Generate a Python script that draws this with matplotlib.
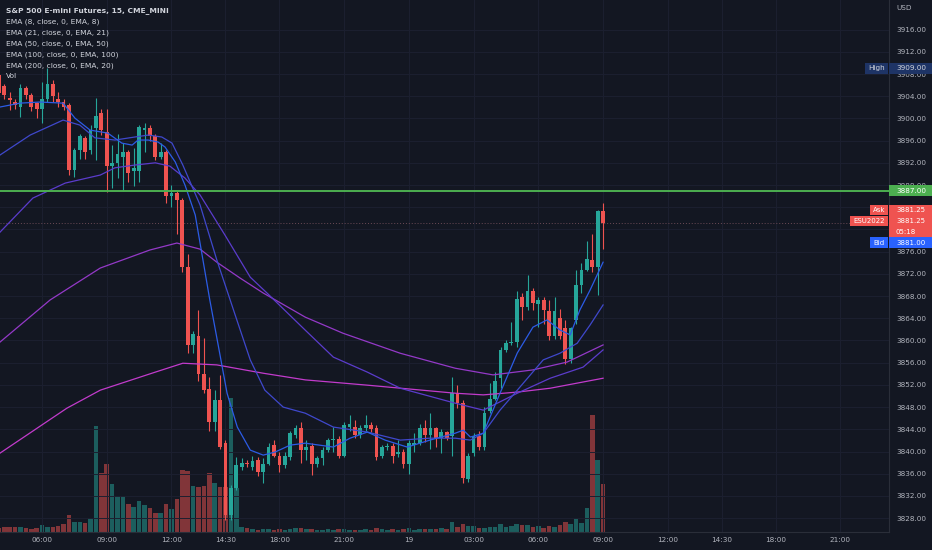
"""ES 15분봉 차트(TradingView 다크 테마)를 matplotlib으로 다시 그린다."""

import matplotlib
matplotlib.use("Agg")
import matplotlib.pyplot as plt
import matplotlib.transforms as mtransforms
from matplotlib.patches import Rectangle

W, H = 932, 550
BG = "#131722"
GRID = "#1c2030"
TEXT = "#b2b5be"
UP = "#26a69a"
DOWN = "#ef5350"

# 봉 위치(06:00 첫째 날 = 0), OHLC, 거래량
bar_pos = list(range(-8, 105))
opens = [
    3907.75, 3905.75, 3903.75, 3903.0, 3902.0, 3905.5, 3904.25, 3902.75,
    3901.75, 3903.5, 3906.25, 3903.5, 3903.0, 3902.5, 3890.75, 3894.25, 3896.5, 3894.25,
    3898.25, 3901.0, 3897.5, 3891.5, 3892.0, 3893.0, 3894.0, 3890.5, 3890.5, 3898.0,
    3898.25, 3896.75, 3893.0, 3894.0, 3886.0, 3886.5, 3885.25, 3873.25, 3859.25, 3860.75,
    3854.0, 3851.25, 3845.25, 3849.25, 3841.5, 3828.5, 3833.5, 3837.25, 3838.0, 3837.25,
    3838.5, 3836.25, 3837.75, 3841.25, 3839.25, 3837.5, 3839.0, 3843.0, 3844.25, 3840.25,
    3841.0, 3837.75, 3838.75, 3840.25, 3842.0, 3842.25, 3839.25, 3844.5, 3844.5, 3843.0,
    3844.25, 3844.75, 3844.25, 3839.25, 3840.75, 3841.0, 3839.5, 3840.0, 3837.75, 3841.25,
    3841.5, 3844.25, 3843.0, 3844.25, 3842.5, 3843.5, 3842.75, 3850.5, 3848.75, 3835.0,
    3839.75, 3842.75, 3840.75, 3847.25, 3849.5, 3853.25, 3858.25, 3859.5, 3859.75, 3867.75,
    3866.0, 3869.0, 3866.5, 3867.25, 3865.25, 3860.75, 3864.0, 3862.25, 3856.75, 3863.75,
    3870.0, 3872.75, 3874.5, 3873.25, 3883.25,
]
highs = [
    3908.25, 3906.25, 3904.75, 3903.5, 3906.25, 3905.75, 3904.5, 3903.0,
    3906.5, 3909.0, 3907.0, 3904.75, 3903.5, 3902.75, 3894.75, 3897.25, 3896.75, 3898.75,
    3903.75, 3901.75, 3901.75, 3895.25, 3897.25, 3895.5, 3894.25, 3894.75, 3898.75, 3899.25,
    3898.75, 3897.25, 3895.5, 3894.25, 3888.0, 3887.0, 3885.75, 3875.5, 3861.75, 3865.5,
    3860.5, 3853.5, 3851.0, 3853.75, 3842.0, 3834.0, 3839.0, 3838.75, 3838.5, 3839.25,
    3839.0, 3838.75, 3841.5, 3842.0, 3840.0, 3840.0, 3843.75, 3844.75, 3845.25, 3842.0,
    3841.5, 3839.25, 3840.75, 3842.5, 3844.5, 3842.75, 3845.25, 3846.5, 3845.75, 3844.75,
    3846.5, 3845.25, 3844.75, 3841.25, 3841.5, 3841.5, 3842.0, 3840.5, 3842.0, 3843.25,
    3845.0, 3845.75, 3847.0, 3844.5, 3844.0, 3843.75, 3853.5, 3852.0, 3849.25, 3839.75,
    3843.25, 3843.75, 3848.0, 3852.25, 3854.25, 3858.75, 3860.0, 3863.25, 3869.0, 3868.5,
    3871.75, 3869.5, 3867.75, 3867.75, 3867.25, 3867.75, 3865.75, 3863.75, 3862.5, 3872.75,
    3874.0, 3878.0, 3879.25, 3883.5, 3884.75,
]
lows = [
    3904.25, 3903.5, 3901.5, 3901.75, 3900.25, 3903.5, 3901.25, 3900.0,
    3899.25, 3903.0, 3903.0, 3902.0, 3901.5, 3889.75, 3889.5, 3892.75, 3892.75, 3893.5,
    3892.5, 3897.0, 3886.75, 3887.5, 3889.25, 3887.0, 3888.5, 3887.75, 3888.5, 3894.0,
    3896.0, 3892.5, 3892.75, 3884.75, 3884.0, 3879.25, 3872.25, 3857.75, 3857.75, 3852.75,
    3850.5, 3843.75, 3843.75, 3840.5, 3827.75, 3827.75, 3833.0, 3836.75, 3837.25, 3836.75,
    3835.5, 3834.25, 3837.5, 3839.0, 3836.25, 3837.0, 3838.5, 3842.5, 3838.0, 3838.5,
    3835.75, 3837.25, 3837.5, 3840.0, 3840.0, 3838.75, 3839.0, 3843.75, 3842.5, 3842.5,
    3843.75, 3843.5, 3838.5, 3838.75, 3840.25, 3838.0, 3839.0, 3837.0, 3836.0, 3840.0,
    3841.25, 3841.75, 3840.5, 3840.75, 3839.75, 3842.0, 3839.25, 3847.75, 3834.25, 3834.5,
    3839.25, 3840.25, 3840.25, 3847.0, 3849.25, 3851.5, 3858.0, 3859.25, 3858.75, 3863.75,
    3865.5, 3865.5, 3862.5, 3863.0, 3860.0, 3860.25, 3860.25, 3855.75, 3856.0, 3863.0,
    3868.5, 3872.5, 3872.25, 3868.25, 3876.5,
]
closes = [
    3904.5, 3904.25, 3903.25, 3902.5, 3905.5, 3904.25, 3902.0, 3901.75,
    3903.5, 3906.25, 3904.0, 3903.0, 3902.0, 3890.75, 3894.25, 3896.75, 3894.0, 3898.0,
    3900.5, 3898.0, 3891.5, 3892.0, 3893.5, 3894.0, 3890.25, 3891.0, 3898.5, 3898.25,
    3896.75, 3893.0, 3894.0, 3886.0, 3886.5, 3885.25, 3873.25, 3859.25, 3861.25, 3854.0,
    3851.0, 3845.25, 3849.25, 3840.75, 3828.5, 3833.5, 3837.5, 3838.0, 3837.75, 3838.25,
    3836.25, 3837.75, 3840.75, 3839.25, 3837.5, 3839.25, 3843.25, 3844.25, 3840.25, 3840.75,
    3837.75, 3838.75, 3840.25, 3842.0, 3842.25, 3839.25, 3844.75, 3845.0, 3843.0, 3844.25,
    3844.75, 3844.0, 3839.0, 3840.75, 3841.0, 3839.25, 3840.0, 3837.75, 3841.5, 3841.5,
    3844.25, 3843.0, 3844.25, 3842.5, 3843.5, 3842.5, 3850.5, 3848.75, 3835.25, 3839.25,
    3842.75, 3840.75, 3847.0, 3849.5, 3852.75, 3858.25, 3859.5, 3859.75, 3867.5, 3866.0,
    3869.0, 3866.75, 3867.25, 3865.5, 3860.75, 3865.25, 3860.75, 3856.75, 3862.25, 3870.0,
    3872.75, 3874.75, 3873.25, 3883.25, 3881.25,
]
volumes = [
    2000, 2300, 2700, 2300, 2700, 1800, 1500, 2200,
    3500, 2700, 2700, 3000, 4000, 8500, 5200, 5200, 4700, 6800,
    53000, 29300, 34000, 24000, 18200, 18200, 14000, 12700, 15500, 13500,
    11800, 9700, 9700, 13800, 11300, 16500, 31000, 30700, 23000, 22700,
    23000, 29300, 24300, 22300, 22700, 67000, 21800, 2700, 1800, 1400,
    1100, 1500, 1300, 1200, 1600, 1000, 1400, 1800, 2000, 1300,
    1500, 1100, 1200, 1300, 1000, 1400, 1700, 1200, 1100, 1000,
    1300, 1100, 1800, 1300, 1000, 1500, 1200, 1400, 1900, 1200,
    1600, 1300, 1700, 1500, 1800, 1300, 5200, 2700, 4000, 3200,
    3000, 1800, 2200, 2300, 2300, 3800, 2300, 3000, 4000, 3700,
    3700, 2700, 3200, 2200, 3000, 2700, 3700, 5200, 4000, 6700,
    4300, 12200, 58500, 36000, 23800,
]

# 이동평균선: 그림에서 읽은 (봉 위치, 가격)
ema8_pos = [-7.8, -4.1, -0.4, 3.9, 6.1, 8.9, 12.2, 14.8, 16.7, 17.8, 19.7, 21.5, 22.8,
            24.7, 26.5, 28.4, 31.1, 33.0, 34.3, 36.2, 38.6, 41.0, 43.2, 46.0, 48.8, 54.0,
            57.1, 60.3, 63.6, 67.7, 71.9, 76.6, 78.1, 79.4, 81.8, 84.9, 88.1, 91.0, 93.6,
            96.0, 97.9, 99.7, 101.6, 104.0]
ema8_val = [3902.05, 3902.75, 3902.95, 3902.75, 3900.05, 3897.9, 3897.35, 3895.55, 3895.2,
            3896.1, 3896.1, 3895.75, 3894.85, 3892.15, 3888.0, 3882.6, 3867.3, 3857.35,
            3850.5, 3844.4, 3840.25, 3839.35, 3839.9, 3841.15, 3841.5, 3840.8, 3842.4,
            3843.5, 3842.05, 3840.8, 3842.05, 3843.3, 3843.85, 3842.6, 3843.3, 3850.5,
            3857.75, 3862.4, 3863.7, 3861.9, 3861.0, 3865.5, 3869.1, 3874.1]
ema21_pos = [-7.8, -2.2, 3.9, 7.0, 9.8, 13.5, 17.2, 19.7, 22.2, 24.1, 26.1, 29.3, 32.4,
             35.8, 38.6, 41.3, 44.7, 48.8, 54.0, 60.3, 66.4, 71.9, 76.6, 79.4, 81.8, 84.9,
             88.1, 92.9, 96.0, 99.2, 101.6, 104.0]
ema21_val = [3893.4, 3897.0, 3899.7, 3898.8, 3896.5, 3896.1, 3896.65, 3897.0, 3896.65,
             3895.55, 3891.6, 3884.4, 3874.5, 3864.6, 3856.5, 3851.05, 3848.0, 3846.9,
             3844.4, 3843.5, 3842.05, 3842.4, 3842.4, 3842.05, 3843.3, 3847.45, 3851.05,
             3856.5, 3857.7, 3859.5, 3862.8, 3866.4]
ema50_pos = [-7.8, -1.7, 4.3, 10.8, 13.5, 17.2, 21.0, 23.7, 26.5, 29.3, 33.9, 38.6, 41.7,
             48.8, 54.0, 60.3, 66.4, 76.6, 81.8, 88.1, 94.2, 100.3, 104.0]
ema50_val = [3879.5, 3885.65, 3888.35, 3889.8, 3891.1, 3891.6, 3892.0, 3891.4, 3889.25,
             3886.2, 3879.0, 3871.4, 3868.55, 3861.85, 3857.0, 3854.3, 3851.4, 3848.7,
             3847.45, 3850.5, 3853.2, 3855.2, 3858.3]
ema100_pos = [-7.8, 1.5, 10.8, 20.0, 25.0, 29.3, 32.4, 36.7, 41.0, 48.8, 55.8, 66.4, 76.6,
              83.6, 91.0, 97.3, 104.0]
ema100_val = [3859.7, 3867.3, 3873.05, 3876.3, 3877.55, 3876.45, 3874.1, 3871.25, 3868.55,
              3864.2, 3861.3, 3857.7, 3855.0, 3853.8, 3854.7, 3856.1, 3859.2]
ema200_pos = [-7.8, 4.6, 10.8, 21.0, 26.1, 32.4, 41.0, 48.8, 60.3, 76.6, 81.8, 88.1, 94.2,
              104.0]
ema200_val = [3839.7, 3847.8, 3851.05, 3854.3, 3855.9, 3855.6, 3854.1, 3852.9, 3851.95,
              3850.5, 3850.2, 3850.7, 3851.4, 3853.2]

time_tick_pos = [0, 12, 24, 34, 44, 56, 68, 80, 92, 104, 116, 126, 136, 148]
time_tick_labels = ["06:00", "09:00", "12:00", "14:30", "18:00", "21:00", "19",
                    "03:00", "06:00", "09:00", "12:00", "14:30", "18:00", "21:00"]
price_ticks = list(range(3828, 3917, 4))
# 가격 상자 뒤에 완전히 가려지는 눈금 글자
hidden_price_labels = [3880, 3884]

legend_lines = [
    "S&P 500 E-mini Futures, 15, CME_MINI",
    "EMA (8, close, 0, EMA, 8)",
    "EMA (21, close, 0, EMA, 21)",
    "EMA (50, close, 0, EMA, 50)",
    "EMA (100, close, 0, EMA, 100)",
    "EMA (200, close, 0, EMA, 20)",
    "Vol",
]

level_price = 3887.0
high_price = 3909.0
last_price = 3881.25
bid_price = 3881.00

plt.rcParams["font.family"] = ["DejaVu Sans"]
FS = 5.2

fig = plt.figure(figsize=(W / 100, H / 100), dpi=100, facecolor=BG)
rect = [0, 18 / H, 889 / W, 532 / H]
ax_vol = fig.add_axes(rect)
ax = fig.add_axes(rect, sharex=ax_vol)
ax.patch.set_visible(False)
ax_vol.set_facecolor(BG)

# 거래량 (반투명 색)
vol_colors = [UP if c >= o else DOWN for o, c in zip(opens, closes)]
ax_vol.bar(bar_pos, volumes, width=0.84, color=vol_colors, alpha=0.5, linewidth=0, zorder=2)
ax_vol.set_ylim(0, 266000)
ax_vol.tick_params(left=False, bottom=False, labelleft=False, labelbottom=False)
for s in ax_vol.spines.values():
    s.set_visible(False)

# 캔들
colors = [UP if c >= o else DOWN for o, c in zip(opens, closes)]
bottoms = [min(o, c) for o, c in zip(opens, closes)]
heights = [max(abs(c - o), 0.15) for o, c in zip(opens, closes)]
ax.vlines(bar_pos, lows, highs, colors=colors, linewidth=0.8, zorder=4)
ax.bar(bar_pos, heights, bottom=bottoms, width=0.7, color=colors, linewidth=0, zorder=5)

# EMA
ax.plot(ema200_pos, ema200_val, color="#c23bcc", lw=0.9, zorder=6)
ax.plot(ema100_pos, ema100_val, color="#9439c8", lw=0.9, zorder=6)
ax.plot(ema50_pos, ema50_val, color="#5b3ccc", lw=0.9, zorder=6)
ax.plot(ema21_pos, ema21_val, color="#3f48cc", lw=0.9, zorder=6)
ax.plot(ema8_pos, ema8_val, color="#2c5ce6", lw=0.9, zorder=6)

ax.axhline(level_price, color="#4caf50", lw=1.4, zorder=7)
ax.axhline(last_price, color="#6b4a55", lw=0.7, ls=(0, (1, 2)), zorder=3)

ax.set_xlim(-7.79, 157.0)
ax.set_ylim(3825.5, 3921.33)

ax.set_xticks(time_tick_pos)
ax.set_xticklabels(time_tick_labels)
ax.yaxis.tick_right()
ax.set_yticks(price_ticks)
ax.set_yticklabels(["" if v in hidden_price_labels else f"{v:.2f}" for v in price_ticks])
ax.tick_params(axis="x", length=0, pad=3.5, labelsize=FS, labelcolor=TEXT)
ax.tick_params(axis="y", length=0, pad=5, labelsize=FS, labelcolor=TEXT)
ax.set_axisbelow(True)
ax.grid(True, color=GRID, lw=0.7)
for name, s in ax.spines.items():
    if name in ("right", "bottom"):
        s.set_color("#2a2e39")
        s.set_linewidth(0.8)
    else:
        s.set_visible(False)

# 오른쪽 가격 표시 상자
trans = mtransforms.blended_transform_factory(ax.transAxes, ax.transData)
x_axis = 1.0
x_end = W / 889
x_txt = 896 / 889
box_h = 1.85


def box(x0, x1, y0, y1, color):
    ax.add_patch(Rectangle((x0, y0), x1 - x0, y1 - y0, transform=trans, color=color,
                           clip_on=False, zorder=20, linewidth=0))


def label(x, y, txt, ha="left", color="white", size=FS):
    ax.text(x, y, txt, transform=trans, ha=ha, va="center", fontsize=size, color=color,
            clip_on=False, zorder=21)


# High
box(865 / 889, 888 / 889, high_price - box_h / 2, high_price + box_h / 2, "#1e3466")
box(x_axis, x_end, high_price - box_h / 2, high_price + box_h / 2, "#1e3466")
label(876.5 / 889, high_price, "High", ha="center", color="#d1d4dc")
label(x_txt, high_price, f"{high_price:.2f}", color="#d1d4dc")

# 수평선 가격
box(x_axis, x_end, level_price - box_h / 2, level_price + box_h / 2, "#4caf50")
label(x_txt, level_price, f"{level_price:.2f}")

# Ask / 현재가 / 남은 시간
ask_y, cur_y, cnt_y, bid_y = 3883.45, 3881.5, 3879.55, 3877.6
box(x_axis, x_end, 3878.62, 3884.35, DOWN)
box(870 / 889, 888 / 889, ask_y - box_h / 2, ask_y + box_h / 2, DOWN)
box(850 / 889, 888 / 889, cur_y - box_h / 2, cur_y + box_h / 2, DOWN)
label(879 / 889, ask_y, "Ask", ha="center", size=5.0)
label(869 / 889, cur_y, "ESU2022", ha="center", size=5.0)
label(x_txt, ask_y, f"{last_price:.2f}", size=5.0)
label(x_txt, cur_y, f"{last_price:.2f}", size=5.0)
label(x_txt, cnt_y, "05:18", size=5.0)

# Bid
box(x_axis, x_end, bid_y - box_h / 2, 3878.55, "#2962ff")
box(870 / 889, 888 / 889, bid_y - box_h / 2, 3878.55, "#2962ff")
label(879 / 889, bid_y, "Bid", ha="center", size=5.0)
label(x_txt, bid_y, f"{bid_price:.2f}", size=5.0)

fig.text(896 / W, 1 - 8.5 / H, "USD", fontsize=FS, color=TEXT, va="center")

# 왼쪽 위 범례
for i, line in enumerate(legend_lines):
    fig.text(6 / W, 1 - (11 + i * 10.9) / H, line, fontsize=FS + 0.2, color="#d1d4dc",
             va="center", fontweight="bold" if i == 0 else "normal")

fig.savefig("out.png", dpi=100, facecolor=BG)
